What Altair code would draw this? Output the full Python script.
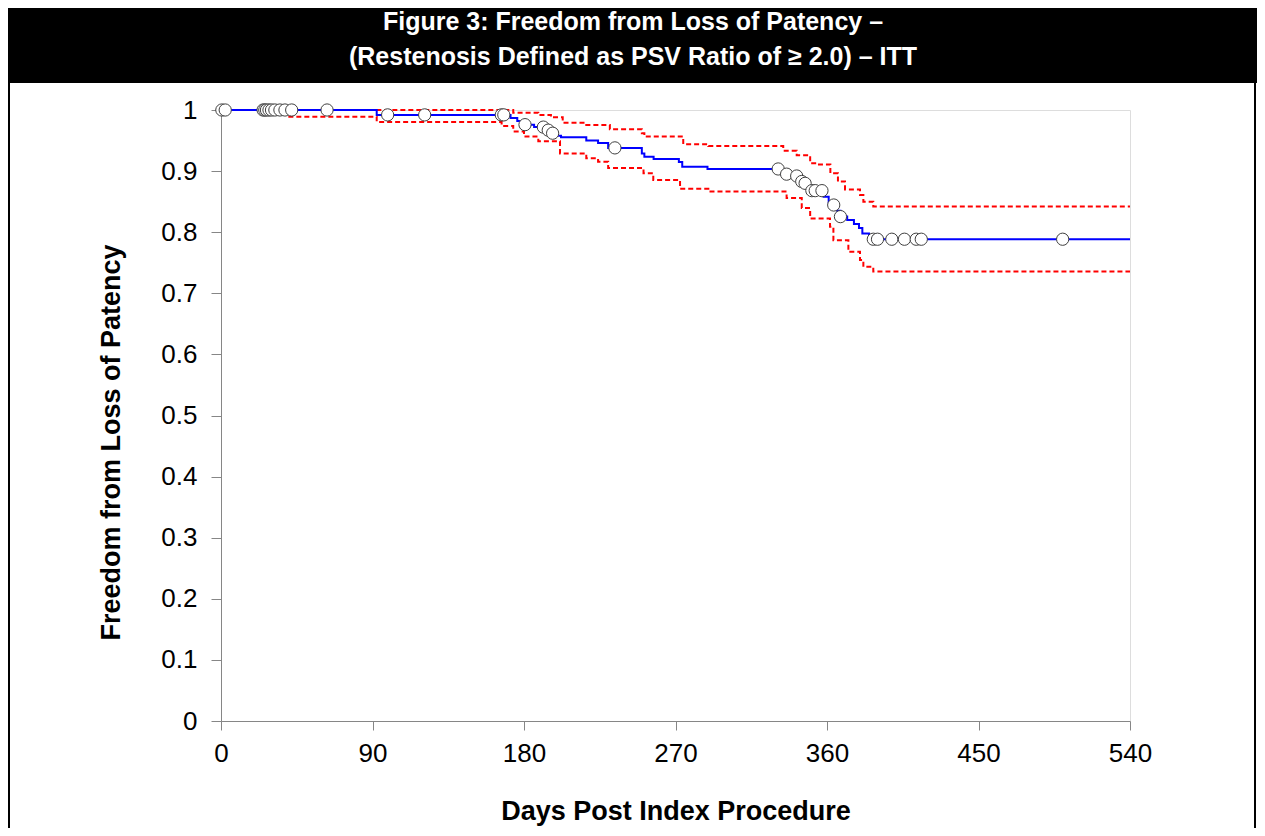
import altair as alt
import pandas as pd

# Kaplan-Meier estimate (step after)
km_days = [0, 92.5, 172, 176, 180, 186, 193, 197, 200, 202, 217, 224, 230, 250, 251.5, 257, 272, 274, 289,
           333, 340, 344, 346, 349, 351, 358, 361, 363, 366, 368, 372, 376, 379, 381, 385, 387, 540]
km_surv = [1.0, 0.992, 0.987, 0.982, 0.976, 0.972, 0.967, 0.962, 0.958, 0.9555, 0.950, 0.946, 0.938, 0.929, 0.9235,
           0.920, 0.915, 0.907, 0.9035,
           0.895, 0.892, 0.884, 0.880, 0.872, 0.868, 0.858, 0.849, 0.8445, 0.835, 0.8255, 0.820, 0.8135, 0.807,
           0.798, 0.793, 0.7885, 0.7885]

# Upper confidence bound
up_days = [40, 173.6, 188.5, 196, 203, 217, 231, 250, 251.5, 274.6, 289.5, 334, 342, 350, 354, 362, 366.5,
           370.7, 379.6, 381.6, 387.5, 540]
up_vals = [1.0, 0.9955, 0.992, 0.988, 0.979, 0.9755, 0.9685, 0.962, 0.9565, 0.944, 0.941, 0.9335, 0.926, 0.913,
           0.911, 0.8965, 0.883, 0.870, 0.861, 0.850, 0.842, 0.842]

# Lower confidence bound
lo_days = [40, 92.5, 166.7, 173.6, 180, 188.5, 201.4, 217, 224, 230, 251, 256.8, 272.7, 289.5, 336, 345, 350,
           361.8, 363.8, 372.7, 379.6, 381.6, 387.5, 540]
lo_vals = [0.989, 0.9805, 0.974, 0.965, 0.9565, 0.949, 0.929, 0.921, 0.9155, 0.905, 0.8965, 0.8855, 0.871, 0.8665,
           0.856, 0.8395, 0.8225, 0.809, 0.787, 0.768, 0.7545, 0.7435, 0.7355, 0.7355]

# Censored observations
cens_days = [0.5, 2.5, 25, 26, 27, 28.5, 30, 32, 35, 38, 42, 63, 99, 121, 166.5, 168, 180.6, 191.5, 194.4, 197,
             234, 331, 336, 342, 345, 347, 351, 353, 357, 364, 368, 387.5, 390, 398.5, 406, 413, 416, 500]
cens_vals = [1.0, 1.0, 1.0, 1.0, 1.0, 1.0, 1.0, 1.0, 1.0, 1.0, 1.0, 1.0, 0.992, 0.992, 0.992, 0.992, 0.976, 0.972,
             0.967, 0.962, 0.938, 0.9035, 0.895, 0.892, 0.883, 0.880, 0.868, 0.868, 0.868, 0.8445, 0.8255, 0.7885,
             0.7885, 0.7885, 0.7885, 0.7885, 0.7885, 0.7885]

x_ticks = [0, 90, 180, 270, 360, 450, 540]
y_ticks = [0, 0.1, 0.2, 0.3, 0.4, 0.5, 0.6, 0.7, 0.8, 0.9, 1.0]

title_line1 = "Figure 3: Freedom from Loss of Patency –"
title_line2 = "(Restenosis Defined as PSV Ratio of ≥ 2.0) – ITT"

FONT = "Liberation Sans"
W, H = 909, 611
PL, PT, PR, PB = 213, 102, 127, 107
GRAY = "#868686"

km = pd.DataFrame({"day": km_days, "s": km_surv})
up = pd.DataFrame({"day": up_days, "s": up_vals})
lo = pd.DataFrame({"day": lo_days, "s": lo_vals})
cens = pd.DataFrame({"day": cens_days, "s": cens_vals})

xs = alt.Scale(domain=[0, 540], nice=False)
ys = alt.Scale(domain=[0, 1], nice=False)

x_axis = alt.Axis(values=x_ticks, grid=False, title="Days Post Index Procedure", labelFontSize=26,
                  labelFont=FONT, labelColor="black", titleFont=FONT, titleFontSize=27, titleFontWeight="bold",
                  titleColor="black", titlePadding=32, tickSize=9, labelPadding=10, domainColor=GRAY,
                  tickColor=GRAY, labelFlush=False)
y_axis = alt.Axis(values=y_ticks, grid=False, title="Freedom from Loss of Patency", labelFontSize=26,
                  labelFont=FONT, labelColor="black", format="~g", titleFont=FONT, titleFontSize=27,
                  titleFontWeight="bold", titleColor="black", titlePadding=35, tickSize=10, labelPadding=14,
                  domainColor=GRAY, tickColor=GRAY, titleY=332)

base_x = alt.X("day:Q", scale=xs, axis=x_axis)
base_y = alt.Y("s:Q", scale=ys, axis=y_axis)

blue = alt.Chart(km).mark_line(interpolate="step-after", color="#0000FF", strokeWidth=2).encode(
    x=base_x, y=base_y)
upper = alt.Chart(up).mark_line(interpolate="step-after", color="#FF0000", strokeWidth=2,
                                strokeDash=[5, 3]).encode(x="day:Q", y="s:Q")
lower = alt.Chart(lo).mark_line(interpolate="step-after", color="#FF0000", strokeWidth=2,
                                strokeDash=[5, 3]).encode(x="day:Q", y="s:Q")
pts = alt.Chart(cens).mark_point(shape="circle", filled=True, fill="white", stroke="#404040", strokeWidth=1,
                                 size=150, opacity=1).encode(x="day:Q", y="s:Q")

dummy = pd.DataFrame({"a": [0]})
band = alt.Chart(dummy).mark_rect(color="black").encode(
    x=alt.value(-PL), x2=alt.value(W + PR), y=alt.value(-PT), y2=alt.value(-27))
t1 = alt.Chart(dummy).mark_text(text=title_line1, font=FONT, fontSize=25, fontWeight="bold", color="white",
                                align="center", baseline="middle").encode(x=alt.value(412), y=alt.value(-88))
t2 = alt.Chart(dummy).mark_text(text=title_line2, font=FONT, fontSize=25, fontWeight="bold", color="white",
                                align="center", baseline="middle").encode(x=alt.value(412), y=alt.value(-53))
lborder = alt.Chart(dummy).mark_rule(color="black", strokeWidth=2).encode(
    x=alt.value(-PL + 1), y=alt.value(-PT), y2=alt.value(H + PB))
rborder = alt.Chart(dummy).mark_rule(color="black", strokeWidth=2).encode(
    x=alt.value(W + PR - 2), y=alt.value(-PT), y2=alt.value(H + PB))

chart = alt.layer(band, t1, t2, lborder, rborder, upper, lower, blue, pts).properties(
    width=W, height=H,
    padding={"left": PL, "top": PT, "right": PR, "bottom": PB},
    autosize=alt.AutoSizeParams(type="none"),
).configure_view(stroke=GRAY, strokeWidth=1).configure(background="white")

chart.save("out.html", embed_options={"renderer": "svg", "actions": False})
